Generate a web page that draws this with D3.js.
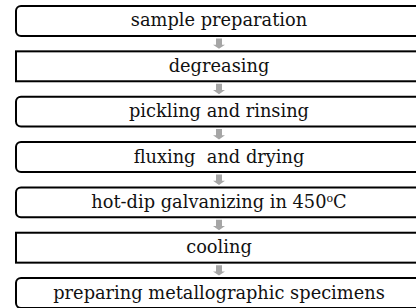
<!DOCTYPE html>
<html>
  <head>
    <meta charset="utf-8">
    <style>
      body { margin: 0; background: #fff; }
      text { font-family: "DejaVu Serif", serif; white-space: pre; }
    </style>
  </head>
  <body>
    <script src="https://d3js.org/d3.v7.min.js"></script>
    <svg id="chart" width="416" height="308"></svg>
    <script>
      // process steps, top to bottom
      steps = [
        "sample preparation",
        "degreasing",
        "pickling and rinsing",
        "fluxing  and drying",
        "hot-dip galvanizing in 450°C",
        "cooling",
        "preparing metallographic specimens"
      ]
      rounded = [true, false, true, true, true, false, true]

      width = 416
      height = 308
      left = 16
      right = 422
      cx = (left + right) / 2

      let svg = d3.select('#chart')

      y = d3.scaleBand()
        .domain(d3.range(steps.length))
        .range([6, 308])
        .paddingInner(0.34)
        .paddingOuter(0)

      // arrows between boxes
      for (let i = 0; i < steps.length - 1; i++) {
        let y0 = y(i) + y.bandwidth() + 2.5
        let y1 = y(i + 1) - 2.5
        let mid = y0 + (y1 - y0) * 0.6
        svg.append('path')
          .attr('d', `M${cx-3},${y0} L${cx+3},${y0} L${cx+3},${mid} L${cx+6},${mid} L${cx},${y1} L${cx-6},${mid} L${cx-3},${mid} Z`)
          .attr('fill', '#a6a6a6')
      }

      // boxes
      let g = svg.selectAll('g.step')
        .data(steps)
        .join('g')
        .attr('class', 'step')

      g.append('rect')
        .attr('x', left)
        .attr('y', (d, i) => y(i))
        .attr('width', right - left)
        .attr('height', y.bandwidth())
        .attr('rx', (d, i) => rounded[i] ? 5 : 0)
        .attr('fill', '#fff')
        .attr('stroke', '#000')
        .attr('stroke-width', 2)

      g.append('text')
        .attr('x', cx)
        .attr('y', (d, i) => y(i) + y.bandwidth() / 2 + 5.5)
        .attr('text-anchor', 'middle')
        .attr('font-size', 17.8)
        .attr('fill', '#111')
        .each(function(d) {
          let t = d3.select(this)
          if (d.includes('°C')) {
            let parts = d.split('°')
            t.append('tspan').text(parts[0])
            t.append('tspan').attr('dy', -6).attr('font-size', 11).text('o')
            t.append('tspan').attr('dy', 6).text(parts[1])
          } else {
            t.text(d)
          }
        })
    </script>
  </body>
</html>
